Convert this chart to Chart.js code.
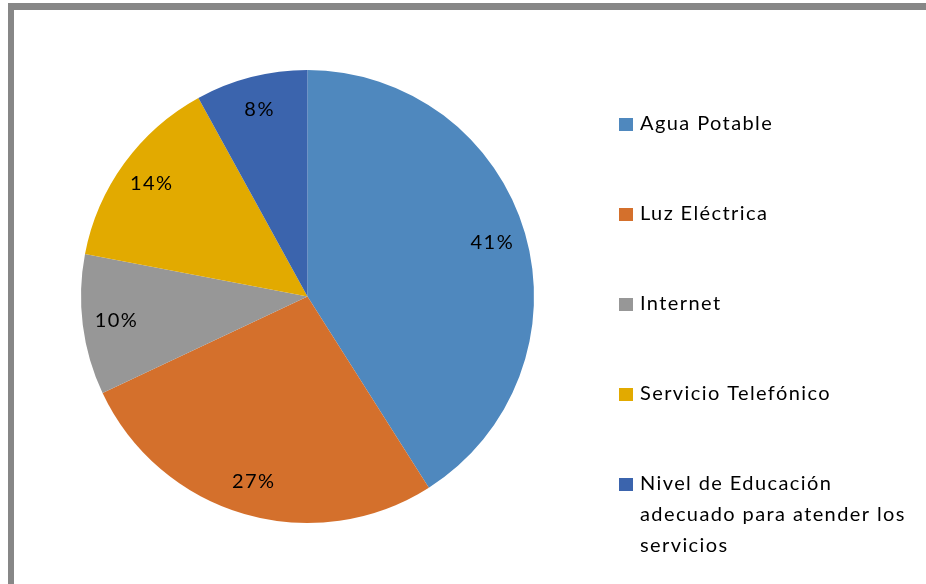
<!DOCTYPE html>
<html>
<head>
<meta charset="utf-8">
<script src="https://cdn.jsdelivr.net/npm/chart.js@4/dist/chart.umd.min.js"></script>
<style>
  html, body { margin: 0; padding: 0; background: #fff; }
  #wrap { position: relative; width: 926px; height: 584px; }
</style>
</head>
<body>
<div id="wrap"><canvas id="chart"></canvas></div>
<script>
const categories = [
  'Agua Potable',
  'Luz Eléctrica',
  'Internet',
  'Servicio Telefónico',
  'Nivel de Educación adecuado para atender los servicios'
];
const legendLines = [
  ['Agua Potable'],
  ['Luz Eléctrica'],
  ['Internet'],
  ['Servicio Telefónico'],
  ['Nivel de Educación', 'adecuado para atender los', 'servicios']
];
const values = [41, 27, 10, 14, 8];
const colors = ['#4f88be', '#d4702c', '#979797', '#e2aa00', '#3b64ad'];

const FONT = 'Lato, "Open Sans", sans-serif';

// frame, slice labels and legend drawn by hand
const decor = {
  id: 'decor',
  beforeDraw(chart) {
    const ctx = chart.ctx;
    ctx.save();
    ctx.fillStyle = '#878787';
    ctx.fillRect(8, 3, 930, 7);
    ctx.fillRect(8, 3, 6, 600);
    ctx.restore();
  },
  afterDraw(chart) {
    const ctx = chart.ctx;
    const meta = chart.getDatasetMeta(0);
    ctx.save();
    ctx.font = '20px ' + FONT;
    ctx.letterSpacing = '1.5px';
    ctx.fillStyle = '#000';
    ctx.textAlign = 'center';
    ctx.textBaseline = 'middle';
    meta.data.forEach((arc, i) => {
      const p = arc.getProps(['x', 'y', 'startAngle', 'endAngle', 'outerRadius'], true);
      const mid = (p.startAngle + p.endAngle) / 2;
      const r = p.outerRadius * 0.85;
      ctx.fillText(values[i] + '%', p.x + Math.cos(mid) * r, p.y + Math.sin(mid) * r);
    });

    ctx.textAlign = 'left';
    ctx.font = '20px ' + FONT;
    ctx.letterSpacing = '1.4px';
    legendLines.forEach((lines, i) => {
      const y = 124 + i * 90;
      ctx.fillStyle = colors[i];
      ctx.fillRect(619, y - 6, 14, 13);
      ctx.fillStyle = '#000';
      lines.forEach((t, j) => ctx.fillText(t, 640, y + j * 31));
    });
    ctx.restore();
  }
};

new Chart(document.getElementById('chart'), {
  type: 'pie',
  data: {
    labels: categories,
    datasets: [{
      data: values,
      backgroundColor: colors,
      borderWidth: 0
    }]
  },
  options: {
    responsive: true,
    maintainAspectRatio: false,
    animation: false,
    layout: { padding: { left: 81, right: 392, top: 70, bottom: 61 } },
    plugins: {
      legend: { display: false },
      tooltip: { enabled: false }
    }
  },
  plugins: [decor]
});
</script>
</body>
</html>
